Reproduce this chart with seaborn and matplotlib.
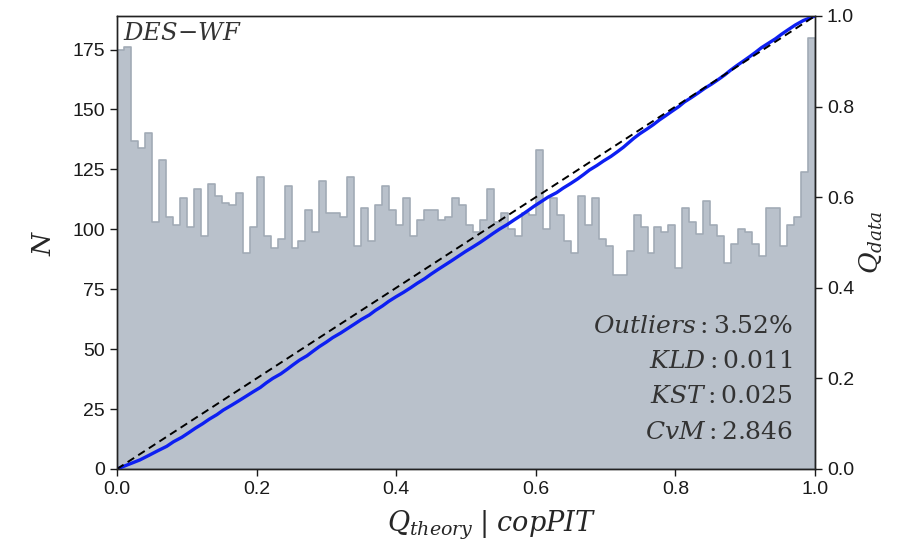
import numpy as np
import pandas as pd
import matplotlib
matplotlib.use("Agg")
import matplotlib.pyplot as plt
import seaborn as sns

# PIT histogram counts, 100 equal bins on [0, 1]
counts = [
    175, 176, 137, 134, 140, 103, 129, 105, 102, 113,
    101, 117, 97, 119, 114, 111, 110, 115, 90, 101,
    122, 97, 92, 96, 118, 92, 95, 108, 99, 120,
    107, 107, 105, 122, 93, 109, 95, 110, 118, 108,
    102, 113, 97, 104, 108, 108, 104, 105, 113, 110,
    102, 99, 104, 117, 103, 107, 100, 97, 107, 106,
    133, 100, 113, 106, 95, 90, 114, 102, 113, 96,
    93, 81, 81, 91, 106, 101, 90, 101, 99, 102,
    84, 109, 103, 98, 112, 102, 97, 86, 94, 100,
    99, 94, 89, 109, 109, 93, 102, 105, 124, 180,
]
n_bins = len(counts)
x_ticks = [0.0, 0.2, 0.4, 0.6, 0.8, 1.0]
left_ticks = [0, 25, 50, 75, 100, 125, 150, 175]
right_ticks = [0.0, 0.2, 0.4, 0.6, 0.8, 1.0]
metric_names = ["Outliers", "KLD", "KST", "CvM"]
metric_values = ["3.52\\%", "0.011", "0.025", "2.846"]
survey_label = "DES{-}WF"

edges = np.linspace(0.0, 1.0, n_bins + 1)
centers = 0.5 * (edges[:-1] + edges[1:])
hist_df = pd.DataFrame({"pit": centers, "n": counts})

# Quantile-quantile curve of the same sample: theory quantile = empirical CDF,
# data quantile = bin edge
cdf = np.concatenate([[0.0], np.cumsum(counts)]) / np.sum(counts)
qq_df = pd.DataFrame({"q_theory": cdf, "q_data": edges})
diag_df = pd.DataFrame({"q_theory": [0.0, 1.0], "q_data": [0.0, 1.0]})

sns.set_theme(style="ticks")
plt.rcParams["font.family"] = ["Liberation Sans", "DejaVu Sans"]
plt.rcParams["mathtext.fontset"] = "dejavuserif"

fig = plt.figure(figsize=(8.98, 5.44), dpi=100)
ax = fig.add_axes([0.1303, 0.1379, 0.7773, 0.8327])

sns.histplot(data=hist_df, x="pit", weights="n", bins=n_bins, binrange=(0, 1),
             element="step", fill=True, color="#b9c1cb", alpha=1.0,
             linewidth=1.2, edgecolor="#a2abb6", ax=ax)
ax.set_xlim(0, 1)
ax.set_ylim(0, 189)
ax.set_xticks(x_ticks)
ax.set_xticklabels([f"{t:.1f}" for t in x_ticks])
ax.set_yticks(left_ticks)
ax.set_xlabel(r"$Q_{theory}$ $|$ $copPIT$", fontsize=19.5)
ax.xaxis.set_label_coords(0.536, -0.088)
ax.set_ylabel(r"$N$", fontsize=19, labelpad=12)
ax.tick_params(axis="both", labelsize=14, length=5, width=1, direction="out",
               colors="#1a1a1a")

ax2 = ax.twinx()
sns.lineplot(data=qq_df, x="q_theory", y="q_data", color="#0d1ff2",
             linewidth=2.4, ax=ax2)
sns.lineplot(data=diag_df, x="q_theory", y="q_data", color="black",
             linewidth=1.4, linestyle=(0, (4, 2.5)), ax=ax2)
ax2.set_xlim(0, 1)
ax2.set_ylim(0, 1)
ax2.set_yticks(right_ticks)
ax2.set_yticklabels([f"{t:.1f}" for t in right_ticks])
ax2.set_ylabel(r"$Q_{data}$", fontsize=19, labelpad=3)
ax2.tick_params(axis="y", labelsize=14, length=5, width=1, direction="out",
                colors="#1a1a1a")

for a in (ax, ax2):
    for s in a.spines.values():
        s.set_visible(True)
        s.set_color("#222222")
        s.set_linewidth(1.0)

ax.text(0.008, 0.96, r"$" + survey_label + r"$", transform=ax.transAxes,
        fontsize=17.5, ha="left", va="center", color="#333333")

y_pos = [0.316, 0.238, 0.161, 0.082]
for name, val, y in zip(metric_names, metric_values, y_pos):
    ax.text(0.968, y, r"$" + name + r": \mathrm{" + val + r"}$",
            transform=ax.transAxes, fontsize=18, ha="right", va="center",
            color="#333333")

fig.savefig("out.png", dpi=100)
